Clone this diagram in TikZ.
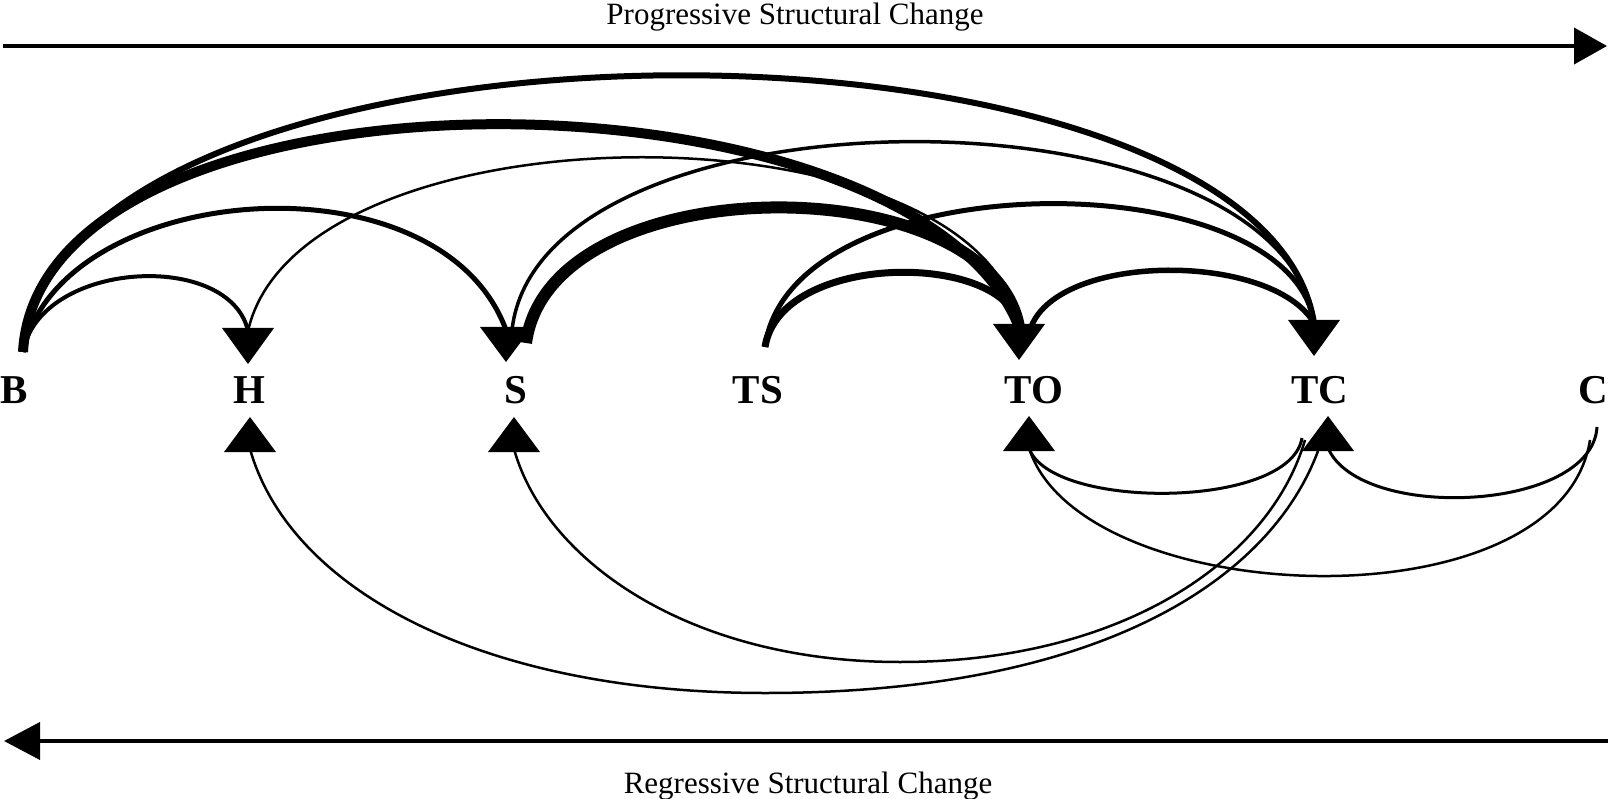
\documentclass[tikz,border=0pt]{standalone}
\usepackage{fontspec}
\setmainfont{Liberation Serif}
\usetikzlibrary{arrows.meta}
\begin{document}
\begin{tikzpicture}[x=1pt,y=-1pt,
  lbl/.style={font=\fontsize{41}{41}\selectfont\bfseries, inner sep=0pt, anchor=base},
  ttl/.style={font=\fontsize{31}{31}\selectfont, inner sep=0pt, anchor=base},
  axis/.style={line width=4pt},
  arcline/.style={draw=black},
  head/.style={fill=black}]
\useasboundingbox (0,0) rectangle (1608,799);
% axes
\node[ttl] (ptitle) at (795,25) {Progressive Structural Change};
\node[ttl] (rtitle) at (808,793) {Regressive Structural Change};
\coordinate (pl) at (3,46);
\coordinate (pr) at (1607,46);
\coordinate (rl) at (4,741);
\coordinate (rr) at (1608,741);
\draw[axis,-{Triangle[length=33pt,width=36pt]}] (pl) -- (pr);
\draw[axis,-{Triangle[length=36pt,width=37pt]}] (rr) -- (rl);
% labels
\node[lbl] (B) at (14,403) {B};
\node[lbl] (H) at (249,403) {H};
\node[lbl] (S) at (516,403) {S};
\node[lbl] (TS) at (758,403) {TS};
\node[lbl] (TO) at (1034,403) {TO};
\node[lbl] (TC) at (1320,403) {TC};
\node[lbl] (C) at (1593,403) {C};
% arc end points
\coordinate (Bo) at (23,352);
\coordinate (Hi) at (248,331);
\coordinate (Si) at (506,330);
\coordinate (Sout) at (526,343);
\coordinate (Ss) at (512,330);
\coordinate (TSo) at (765,347);
\coordinate (TOi) at (1019,327);
\coordinate (TOo) at (1031,327);
\coordinate (TCi) at (1314,323);
\coordinate (Hu) at (250,449);
\coordinate (Su) at (514,449);
\coordinate (TOu) at (1029,448);
\coordinate (TCu) at (1328,448);
\coordinate (TCa) at (1318,451);
\coordinate (TCb) at (1305,440);
\coordinate (TCc) at (1302,438);
\coordinate (Ca) at (1597,427);
\coordinate (Cb) at (1590,440);
\coordinate (hb) at (765,693);
\coordinate (sb) at (900,662);
% progressive arcs
\draw[arcline,line width=6pt] (Bo) .. controls (60,-12) and (1260,-12) .. (TCi);
\draw[arcline,line width=10pt] (Bo) .. controls (40,50) and (910,55) .. (TOi);
\draw[arcline,line width=5pt] (Bo) .. controls (60,180) and (440,150) .. (Si);
\draw[arcline,line width=4pt] (Bo) .. controls (40,260) and (230,250) .. (Hi);
\draw[arcline,line width=2.5pt] (Hi) .. controls (300,100) and (984,100) .. (TOi);
\draw[arcline,line width=12pt] (Sout) .. controls (550,165) and (990,165) .. (TOi);
\draw[arcline,line width=3.5pt] (Ss) .. controls (540,80) and (1280,80) .. (TCi);
\draw[arcline,line width=7pt] (TSo) .. controls (780,251) and (1007,251) .. (TOi);
\draw[arcline,line width=5pt] (TSo) .. controls (790,160) and (1290,160) .. (TCi);
\draw[arcline,line width=5.5pt] (TOo) .. controls (1060,252) and (1272,252) .. (TCi);
% regressive arcs
\draw[arcline,line width=2.5pt] (Hu) .. controls (290,590) and (482,693) .. (hb) .. controls (1100,693) and (1270,580) .. (TCa);
\draw[arcline,line width=2.5pt] (Su) .. controls (545,560) and (688,662) .. (sb) .. controls (1123,662) and (1270,560) .. (TCb);
\draw[arcline,line width=3pt] (TOu) .. controls (1050,510) and (1290,510) .. (TCc);
\draw[arcline,line width=3pt] (TCu) .. controls (1360,522) and (1592,512) .. (Ca);
\draw[arcline,line width=2.5pt] (TOu) .. controls (1080,610) and (1560,630) .. (Cb);
% arrowheads (down)
\fill[head] (222,328) -- (274,328) -- (248,364) -- cycle;
\fill[head] (480,327) -- (532,327) -- (506,362) -- cycle;
\fill[head] (993,324) -- (1045,324) -- (1019,360) -- cycle;
\fill[head] (1288,320) -- (1340,320) -- (1314,356) -- cycle;
% arrowheads (up)
\fill[head] (224,452) -- (276,452) -- (250,417) -- cycle;
\fill[head] (488,452) -- (540,452) -- (514,417) -- cycle;
\fill[head] (1003,451) -- (1055,451) -- (1029,416) -- cycle;
\fill[head] (1302,451) -- (1354,451) -- (1328,416) -- cycle;
\end{tikzpicture}
\end{document}
